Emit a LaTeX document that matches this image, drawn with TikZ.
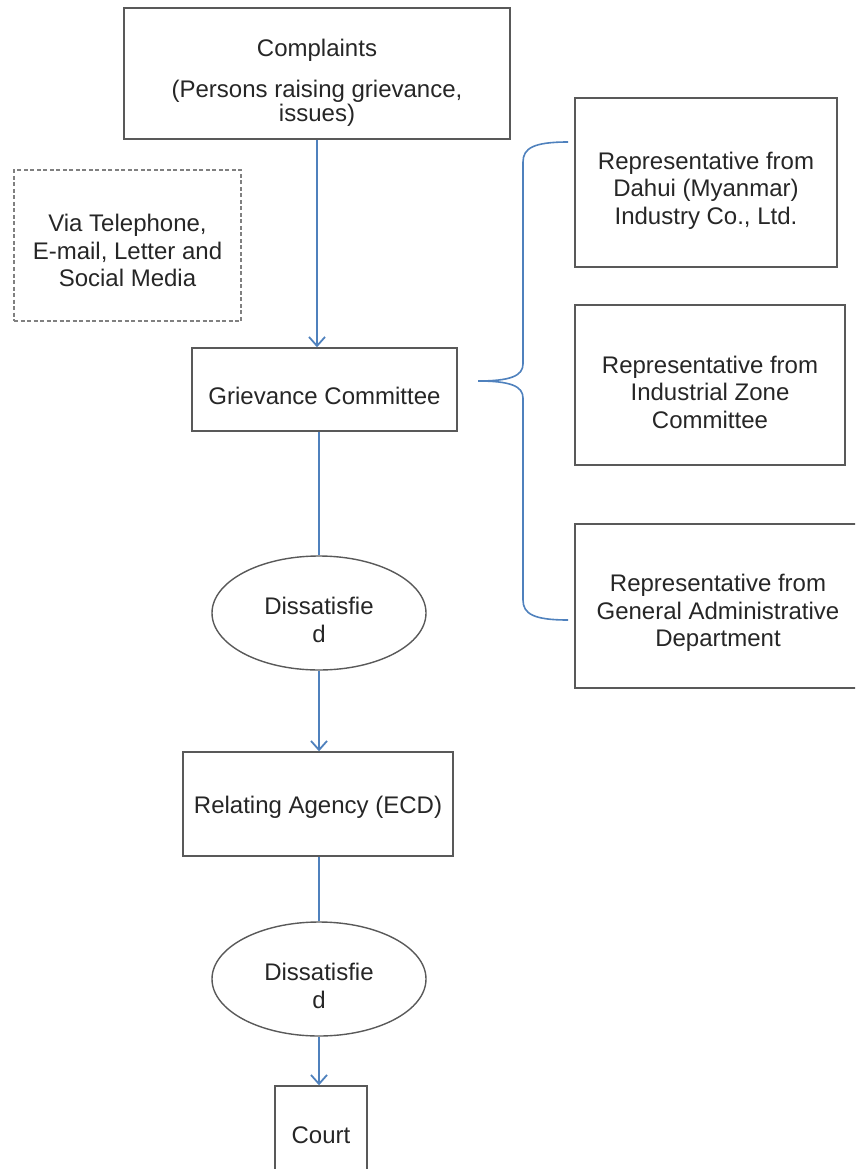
\documentclass[tikz,border=0pt]{standalone}
\usepackage{fontspec}
\setmainfont{Liberation Sans}
\usetikzlibrary{arrows.meta,shapes.geometric}
\definecolor{lineblue}{HTML}{4F81BD}
\definecolor{boxgray}{HTML}{595959}
\definecolor{dashgray}{HTML}{808080}
\definecolor{txtc}{HTML}{262626}
\begin{document}
\begin{tikzpicture}[x=1pt,y=-1pt,
  font=\fontsize{24}{27.5}\selectfont, text=txtc,
  box/.style={draw=boxgray, line width=1.4pt, rectangle, inner sep=0pt, align=center},
  dbox/.style={draw=dashgray, line width=1.3pt, dash pattern=on 4pt off 2.5pt, rectangle, inner sep=0pt, align=center},
  oval/.style={draw=boxgray, line width=1.4pt, ellipse, inner sep=0pt, align=center, minimum width=214pt, minimum height=114pt},
  lbl/.style={align=center, inner sep=0pt, text=txtc},
  lab/.style 2 args={label={[lbl,yshift=#1]center:{#2}}},
  flow/.style={draw=lineblue, line width=1.8pt},
  arr/.style={flow, -{Straight Barb[length=9pt,width=16pt,line width=1.8pt]}},
]
\useasboundingbox (0,0) rectangle (855,1169);
\clip (0,0) rectangle (855,1169);

% main column
\node[box, minimum width=386pt, minimum height=131pt,
  lab={-9.5pt}{Complaints\\[13.5pt](Persons raising grievance,\\[-3.5pt]issues)}] (comp) at (317,73.5) {};
\node[dbox, minimum width=227pt, minimum height=151pt,
  lab={-5pt}{Via Telephone,\\E-mail, Letter and\\Social Media}] (via) at (127.5,245.5) {};
\node[box, minimum width=265pt, minimum height=83pt,
  lab={-6pt}{Grievance Committee}] (griev) at (324.5,389.5) {};
\node[oval, lab={-7pt}{Dissatisfie\\d}] (e1) at (319,613) {};
\node[box, minimum width=270pt, minimum height=104pt,
  lab={-3pt}{Relating Agency (ECD)}] (rel) at (318,804) {};
\node[oval, lab={-7pt}{Dissatisfie\\d}] (e2) at (319,979) {};
\node[box, minimum width=92pt, minimum height=110pt] (court) at (321,1141) {};
\node[lbl, anchor=base] (courttxt) at (321,1143) {Court};

% representatives
\node[box, minimum width=262pt, minimum height=169pt,
  lab={-8pt}{Representative from\\Dahui (Myanmar)\\Industry Co., Ltd.}] (rep1) at (706,182.5) {};
\node[box, minimum width=270pt, minimum height=160pt,
  lab={-7pt}{Representative from\\Industrial Zone\\Committee}] (rep2) at (710,385) {};
\node[box, minimum width=286pt, minimum height=164pt,
  lab={-7pt}{Representative from\\General Administrative\\Department}] (rep3) at (718,606) {};

% connectors
\draw[arr] (comp.south) -- (comp.south |- griev.north);
\draw[flow] (e1.north |- griev.south) -- (e1.north);
\draw[arr] (e1.south) -- (e1.south |- rel.north);
\draw[flow] (e2.north |- rel.south) -- (e2.north);
\draw[arr] (e2.south) -- (e2.south |- court.north);

% brace
\coordinate (btip) at (478,381);
\coordinate (btop) at (568,142);
\coordinate (bbot) at (568,620);
\draw[flow, line width=1.6pt] (btop) .. controls (534,142) and (523,148) .. (523,162)
  -- (523,364) .. controls (523,376) and (510,381) .. (btip)
  .. controls (510,381) and (523,386) .. (523,398)
  -- (523,600) .. controls (523,614) and (534,620) .. (bbot);
\end{tikzpicture}
\end{document}
